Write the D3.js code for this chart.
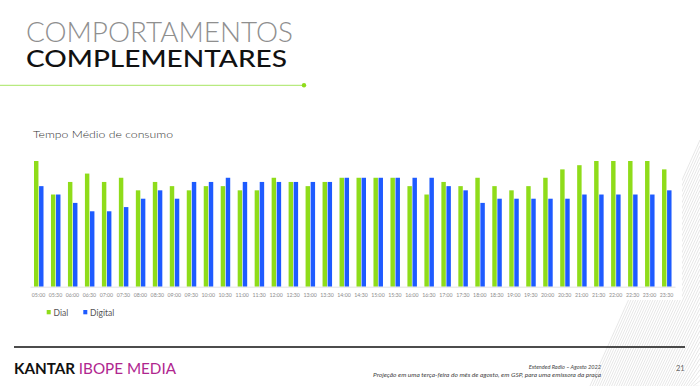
<!DOCTYPE html>
<html><head><meta charset="utf-8">
<script src="https://cdn.jsdelivr.net/npm/d3@7/dist/d3.min.js"></script>
<style>body{margin:0;background:#fff}svg{display:block}</style>
</head><body>
<svg id="c" width="700" height="386"></svg>
<script>
const categories = ["05:00","05:30","06:00","06:30","07:00","07:30","08:00","08:30","09:00","09:30","10:00","10:30","11:00","11:30","12:00","12:30","13:00","13:30","14:00","14:30","15:00","15:30","16:00","16:30","17:00","17:30","18:00","18:30","19:00","19:30","20:00","20:30","21:00","21:30","22:00","22:30","23:00","23:30"];
const dial    = [30,22,25,27,25,26,23,25,24,23,24,24,23,23,26,25,24,25,26,26,26,26,24,22,25,24,26,24,23,24,26,28,29,30,30,30,30,28];
const digital = [24,22,20,18,18,19,21,23,21,25,25,26,25,25,25,25,25,25,26,26,26,26,26,26,24,23,20,21,21,21,21,21,22,22,22,22,22,23];
const seriesNames = ["Dial","Digital"];
const colors = ["#8fdc1a","#1e5bff"];

const svg = d3.select("#c");
const font = "Lato, 'Open Sans', sans-serif";

// decorative fan lines bottom-right
const deco = svg.append("g").attr("stroke","#cfcfcf").attr("stroke-width",0.5).attr("fill","none");
for (let i = 0; i < 45; i++) {
  const x1 = 590 + i * 2.4, y1 = 386;
  const x2 = 700, y2 = 140 + i * 5.6;
  deco.append("line").attr("x1",x1).attr("y1",y1).attr("x2",x2).attr("y2",y2);
}
// white cover behind chart area
svg.append("rect").attr("x",0).attr("y",100).attr("width",682).attr("height",200).attr("fill","#fff");

// Title
svg.append("text").attr("x",26).attr("y",42).attr("font-family",font).attr("font-weight",300)
  .attr("font-size",28).attr("fill","#8f8f8f").attr("textLength",267).attr("lengthAdjust","spacingAndGlyphs")
  .text("COMPORTAMENTOS");
svg.append("text").attr("x",26).attr("y",67).attr("font-family",font).attr("font-weight",500)
  .attr("font-size",22.5).attr("fill","#111").attr("textLength",261).attr("lengthAdjust","spacingAndGlyphs")
  .text("COMPLEMENTARES");
svg.append("line").attr("x1",0).attr("x2",304).attr("y1",85.3).attr("y2",85.3).attr("stroke","#b8ea80").attr("stroke-width",1.2);
svg.append("circle").attr("cx",304).attr("cy",85.3).attr("r",2.2).attr("fill","#8fdc1a");

// subtitle
svg.append("text").attr("x",33).attr("y",138.3).attr("font-family",font).attr("font-weight",300).attr("font-size",10.5)
  .attr("fill","#333").attr("textLength",140).attr("lengthAdjust","spacingAndGlyphs").text("Tempo Médio de consumo");

// scales
const x = d3.scaleBand().domain(categories).range([30,675]).padding(0);
const y = d3.scaleLinear().domain([0,30]).range([286.7,161]);
const xs = d3.scaleBand().domain(seriesNames).range([4,13.5]).paddingInner(0.12);

const g = svg.append("g");
const data = categories.map((c,i)=>({c, vals:[dial[i],digital[i]]}));
const grp = g.selectAll("g.grp").data(data).join("g").attr("class","grp")
  .attr("transform",d=>`translate(${x(d.c)},0)`);
grp.selectAll("rect").data(d=>d.vals.map((v,j)=>({v,j}))).join("rect")
  .attr("x",d=>xs(seriesNames[d.j])).attr("width",xs.bandwidth())
  .attr("y",d=>y(d.v)).attr("height",d=>y(0)-y(d.v)).attr("fill",d=>colors[d.j]);

// x axis
const ax = svg.append("g").attr("transform",`translate(0,${y(0)})`)
  .call(d3.axisBottom(x).tickSize(0).tickPadding(6));
ax.select(".domain").attr("stroke","#e3e3e3").attr("stroke-width",1);
ax.selectAll("text").attr("font-family",font).attr("font-size",6.4).attr("fill","#8c8c8c")
  .attr("textLength",13.4).attr("lengthAdjust","spacingAndGlyphs");

// legend
const leg = svg.append("g");
const lx = [46.7, 83.3];
seriesNames.forEach((n,i)=>{
  leg.append("rect").attr("x",lx[i]).attr("y",310).attr("width",4).attr("height",4.3).attr("fill",colors[i]);
  leg.append("text").attr("x",lx[i]+6.8).attr("y",315.5).attr("font-family",font).attr("font-size",8.5)
    .attr("fill","#555").text(n);
});

// footer
svg.append("line").attr("x1",14).attr("x2",685).attr("y1",347).attr("y2",347).attr("stroke","#111").attr("stroke-width",1.4);
const ft = svg.append("text").attr("x",14).attr("y",373.5).attr("font-family",font).attr("font-size",15)
  .attr("textLength",162).attr("lengthAdjust","spacingAndGlyphs");
ft.append("tspan").attr("fill","#111").attr("font-weight",700).text("KANTAR ");
ft.append("tspan").attr("fill","#b0268f").attr("font-weight",400).text("IBOPE MEDIA");
svg.append("text").attr("x",601).attr("y",369).attr("text-anchor","end").attr("font-family",font)
  .attr("font-style","italic").attr("font-size",5.6).attr("fill","#444").text("Extended Radio – Agosto 2022");
svg.append("text").attr("x",601).attr("y",377).attr("text-anchor","end").attr("font-family",font)
  .attr("font-style","italic").attr("font-size",5.6).attr("fill","#444")
  .attr("textLength",228).attr("lengthAdjust","spacingAndGlyphs")
  .text("Projeção em uma terça-feira do mês de agosto, em GSP, para uma emissora da praça");
svg.append("text").attr("x",676).attr("y",371).attr("font-family",font).attr("font-size",7.5)
  .attr("fill","#666").text("21");
</script>
</body></html>
